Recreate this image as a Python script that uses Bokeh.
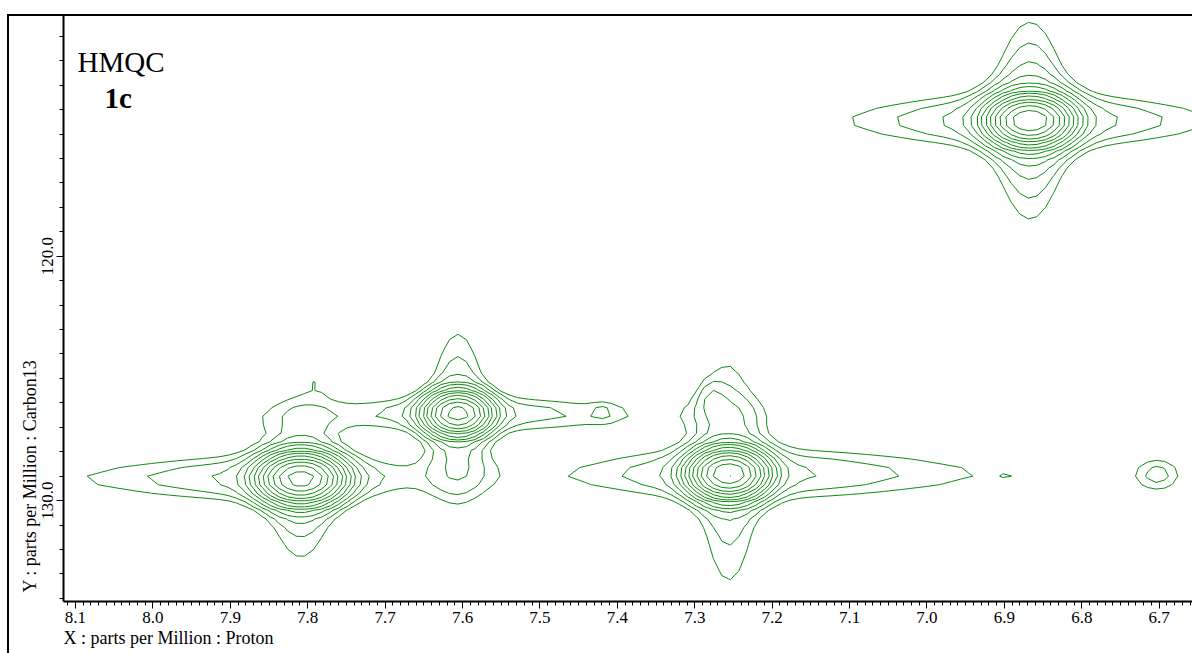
import numpy as np
from bokeh.plotting import figure
from bokeh.models import (Range1d, FixedTicker, PrintfTickFormatter, Label, Title,
                          InlineStyleSheet)
from bokeh.embed import file_html
from bokeh.resources import INLINE

# ---- peak parameters (ppm) ----
peak_names = ["A", "B", "C", "D", "E", "F", "G", "H", "I", "J"]
peak_x   = [6.867, 7.809, 7.606, 7.256, 7.418, 7.785, 7.885, 7.280, 6.702, 6.897]
peak_y   = [114.45, 129.10, 126.44, 128.90, 126.35, 125.00, 127.00, 125.70, 128.95, 128.95]
peak_amp = [0.82, 0.72, 0.52, 0.84, 0.008, 0.011, 0.006, 0.013, 0.020, 0.003]
peak_sx  = [0.027, 0.027, 0.022, 0.025, 0.012, 0.018, 0.020, 0.013, 0.022, 0.005]
peak_sy  = [0.50, 0.50, 0.45, 0.50, 0.30, 0.45, 0.50, 0.50, 0.55, 0.15]
# horizontal (proton) ridges: height, reach left (higher ppm) / right, thickness
ridge_h       = [0.044, 0.037, 0.033, 0.0364, 0, 0, 0, 0, 0, 0]
ridge_h_left  = [0.193, 0.250, 0.175, 0.170, 1, 1, 1, 1, 1, 1]
ridge_h_right = [0.193, 0.112, 0.235, 0.300, 1, 1, 1, 1, 1, 1]
ridge_h_thick = [0.85, 0.75, 0.60, 0.85, 1, 1, 1, 1, 1, 1]
# vertical (carbon) ridges: height, reach upward (lower ppm) / downward
ridge_v       = [0.056, 0.042, 0.039, 0.034, 0, 0, 0, 0, 0, 0]
ridge_v_up    = [2.77, 1.90, 3.00, 4.61, 1, 1, 1, 1, 1, 1]
ridge_v_down  = [2.77, 2.77, 2.50, 4.61, 1, 1, 1, 1, 1, 1]

contour_levels = [0.018, 0.0243, 0.0328, 0.0443, 0.0598, 0.0807, 0.109,
                  0.147, 0.199, 0.268, 0.362, 0.489, 0.66, 0.89]

x_major = [8.1, 8.0, 7.9, 7.8, 7.7, 7.6, 7.5, 7.4, 7.3, 7.2, 7.1, 7.0, 6.9, 6.8, 6.7]
y_major = [120.0, 130.0]
x_title = "X : parts per Million : Proton"
y_title = "Y : parts per Million : Carbon13"

# ---- build the 2D intensity field from the peak list ----
gx = np.arange(6.55, 8.20, 0.011)
gy = np.arange(108.0, 136.0, 0.35)
X, Y = np.meshgrid(gx, gy)
Z = np.zeros_like(X)
for i in range(len(peak_names)):
    dx = X - peak_x[i]
    dy = Y - peak_y[i]
    sx, sy = peak_sx[i], peak_sy[i]
    Z += peak_amp[i] * np.exp(-0.5 * ((dx / sx) ** 2 + (dy / sy) ** 2))
    if ridge_h[i] > 0:
        tx = np.where(dx > 0, ridge_h_left[i], ridge_h_right[i])
        Z += ridge_h[i] / (1 + (dx / tx) ** 2) * np.exp(-0.5 * (dy / ridge_h_thick[i]) ** 2)
    if ridge_v[i] > 0:
        ty = np.where(dy < 0, ridge_v_up[i], ridge_v_down[i])
        Z += ridge_v[i] / (1 + (dy / ty) ** 2) * np.exp(-0.5 * (dx / (1.3 * sx)) ** 2)

W, H = 1192, 653
p = figure(width=W, height=H,
           x_range=Range1d(8.1155, 6.657), y_range=Range1d(134.13, 110.15),
           output_backend="svg", toolbar_location=None,
           min_border_left=63, min_border_right=0, min_border_top=15, min_border_bottom=52)
p.outline_line_color = None
p.xgrid.grid_line_color = None
p.ygrid.grid_line_color = None
p.background_fill_color = "white"
p.border_fill_color = "white"

p.contour(X, Y, Z, contour_levels, line_color="#108a10", line_width=1)

minor_x = [round(6.6 + 0.01 * k, 2) for k in range(0, 160)]
p.xaxis.ticker = FixedTicker(ticks=x_major, minor_ticks=minor_x)
p.xaxis.formatter = PrintfTickFormatter(format="%.1f")
minor_y = list(range(108, 137))
p.yaxis.ticker = FixedTicker(ticks=y_major, minor_ticks=minor_y)
p.yaxis.formatter = PrintfTickFormatter(format="%.1f")
p.yaxis.major_label_orientation = "vertical"

font = "Liberation Serif"
for ax in (p.xaxis[0], p.yaxis[0]):
    ax.axis_line_width = 2
    ax.axis_line_color = "black"
    ax.major_tick_line_color = "black"
    ax.minor_tick_line_color = "black"
    ax.major_tick_line_width = 1
    ax.minor_tick_line_width = 1
    ax.major_tick_in = 0
    ax.minor_tick_in = 0
    ax.major_tick_out = 7
    ax.minor_tick_out = 4
    ax.major_label_text_font = font
    ax.major_label_text_font_size = "17px"
    ax.major_label_text_color = "black"
    ax.major_label_standoff = 3

# axis titles as side-panel titles, aligned to the start of each axis
p.add_layout(Title(text=x_title, align="left", text_font=font, text_font_size="18px",
                   text_font_style="normal", text_color="black", standoff=0), "below")
p.add_layout(Title(text=y_title, align="left", text_font=font, text_font_size="18px",
                   text_font_style="normal", text_color="black", standoff=0, offset=9),
             "left")

# outer frame (left and top edges) as a CSS overlay on the figure element
p.stylesheets = [InlineStyleSheet(css="""
:host { position: relative; }
:host::after {
  content: "";
  position: absolute;
  left: 7px; top: 14px;
  width: calc(100% - 7px); height: calc(100% - 14px);
  border-left: 2px solid black; border-top: 2px solid black;
  box-sizing: border-box;
  pointer-events: none;
}
""")]

p.add_layout(Label(x=77, y=61, x_units="canvas", y_units="canvas", text="HMQC",
                   text_font=font, text_font_size="29px", text_color="black",
                   text_baseline="alphabetic", text_align="left"))
p.add_layout(Label(x=104, y=97, x_units="canvas", y_units="canvas", text="1c",
                   text_font=font, text_font_size="29px", text_font_style="bold",
                   text_color="black", text_baseline="alphabetic", text_align="left"))

open("out.html", "w").write(file_html(p, INLINE))
